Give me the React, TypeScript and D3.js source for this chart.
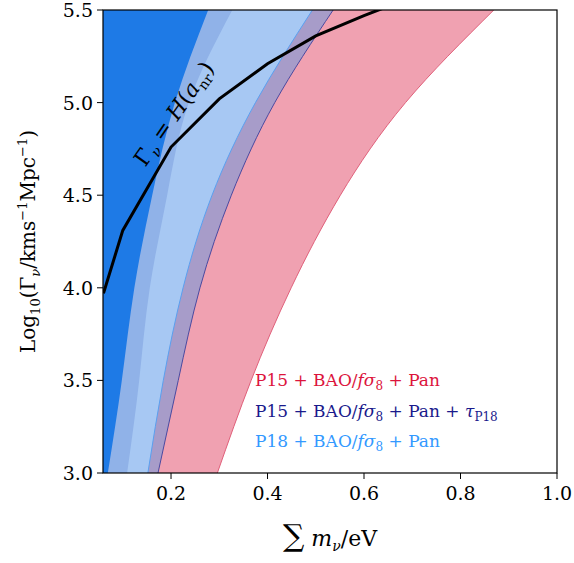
import React from "react";
import * as d3 from "d3";

const yLevels = [3.0, 3.5, 4.0, 4.5, 5.0, 5.5];
const edgeA = [0.069, 0.098, 0.124, 0.161, 0.208, 0.277];
const edgeB = [0.109, 0.134, 0.156, 0.192, 0.237, 0.327];
const edgeC = [0.152, 0.184, 0.225, 0.285, 0.375, 0.493];
const edgeD = [0.173, 0.215, 0.26, 0.325, 0.415, 0.536];
const edgeF = [0.296, 0.366, 0.449, 0.551, 0.686, 0.869];
const lineX = [0.06, 0.1, 0.2, 0.3, 0.4, 0.5, 0.6, 0.66];
const lineY = [3.97, 4.31, 4.76, 5.02, 5.21, 5.36, 5.47, 5.53];
const xTicks = [0.2, 0.4, 0.6, 0.8, 1.0];
const yTicks = [3.0, 3.5, 4.0, 4.5, 5.0, 5.5];

const W = 574, H = 563;
const L = 103, R = 557, T = 10, B = 473;
const x = d3.scaleLinear().domain([0.059, 1.0]).range([L, R]);
const y = d3.scaleLinear().domain([3.0, 5.5]).range([B, T]);
const F = "'DejaVu Serif', 'Liberation Serif', serif";

function edgePath(edge: number[]) {
  return d3.line<number>().x(d => x(d)).y((_, i) => y(yLevels[i])).curve(d3.curveNatural)(edge) as string;
}
function smoothLeft(edge: number[]) {
  const p = edgePath(edge);
  return `M${x(x.domain()[0])},${y(3)}L${p.slice(1)}L${x(x.domain()[0])},${y(5.5)}Z`;
}

export default function App() {
  const ln = d3.line<number>().x(d => x(d)).y((_, i) => y(lineY[i]))(lineX) as string;
  return (
    <svg width={W} height={H} style={{ position: "absolute", left: 0, top: 0 }}>
      <defs>
        <clipPath id="c"><rect x={L} y={T} width={R - L} height={B - T} /></clipPath>
      </defs>
      <g clipPath="url(#c)">
        <path d={smoothLeft(edgeF)} fill="#f0a1b1" />
        <path d={edgePath(edgeF)} fill="none" stroke="#e0607a" strokeWidth={1} />
        <path d={smoothLeft(edgeD)} fill="#a79cc9" />
        <path d={edgePath(edgeD)} fill="none" stroke="#4a4aa0" strokeWidth={1} />
        <path d={smoothLeft(edgeC)} fill="#a7c8f3" />
        <path d={edgePath(edgeC)} fill="none" stroke="#5aa0f0" strokeWidth={1} />
        <path d={smoothLeft(edgeB)} fill="#90b2e8" />
        <path d={smoothLeft(edgeA)} fill="#1e7ae6" />
        <path d={ln} fill="none" stroke="#000" strokeWidth={3} />
      </g>
      <rect x={L} y={T} width={R - L} height={B - T} fill="none" stroke="#000" strokeWidth={1.2} />
      {xTicks.map(t => (
        <g key={t}>
          <line x1={x(t)} x2={x(t)} y1={B} y2={B + 6} stroke="#000" />
          <text x={x(t)} y={B + 27} textAnchor="middle" fontFamily={F} fontSize={19}>{t.toFixed(1)}</text>
        </g>
      ))}
      {yTicks.map(t => (
        <g key={t}>
          <line x1={L - 6} x2={L} y1={y(t)} y2={y(t)} stroke="#000" />
          <text x={L - 10} y={y(t) + 7} textAnchor="end" fontFamily={F} fontSize={19}>{t.toFixed(1)}</text>
        </g>
      ))}
      <text x={330} y={546} textAnchor="middle" fontFamily={F} fontSize={22}>
        <tspan fontSize={30}>∑</tspan> <tspan fontStyle="italic">m</tspan><tspan fontSize={14} dy={5} fontStyle="italic">ν</tspan><tspan dy={-5}>/eV</tspan>
      </text>
      <text transform={`translate(35,${(T + B) / 2}) rotate(-90)`} textAnchor="middle" fontFamily={F} fontSize={20}>
        Log<tspan fontSize={13} dy={5}>10</tspan><tspan dy={-5}>(Γ</tspan><tspan fontSize={13} dy={5} fontStyle="italic">ν</tspan><tspan dy={-5}>/kms</tspan><tspan fontSize={13} dy={-8}>−1</tspan><tspan dy={8}>Mpc</tspan><tspan fontSize={13} dy={-8}>−1</tspan><tspan dy={8}>)</tspan>
      </text>
      <text transform="translate(180,118) rotate(-55)" textAnchor="middle" fontFamily={F} fontSize={22}>
        Γ<tspan fontSize={14} dy={5} fontStyle="italic">ν</tspan><tspan dy={-5}> = </tspan><tspan fontStyle="italic">H</tspan>(<tspan fontStyle="italic">a</tspan><tspan fontSize={14} dy={5}>nr</tspan><tspan dy={-5}>)</tspan>
      </text>
      <text x={255} y={386} fontFamily={F} fontSize={17} fill="#dc143c">P15 + BAO/<tspan fontStyle="italic">fσ</tspan><tspan fontSize={12} dy={4}>8</tspan><tspan dy={-4}> + Pan</tspan></text>
      <text x={255} y={417} fontFamily={F} fontSize={17} fill="#1a1a8c">P15 + BAO/<tspan fontStyle="italic">fσ</tspan><tspan fontSize={12} dy={4}>8</tspan><tspan dy={-4}> + Pan + </tspan><tspan fontStyle="italic">τ</tspan><tspan fontSize={12} dy={4}>P18</tspan></text>
      <text x={255} y={447} fontFamily={F} fontSize={17} fill="#3399ff">P18 + BAO/<tspan fontStyle="italic">fσ</tspan><tspan fontSize={12} dy={4}>8</tspan><tspan dy={-4}> + Pan</tspan></text>
    </svg>
  );
}
